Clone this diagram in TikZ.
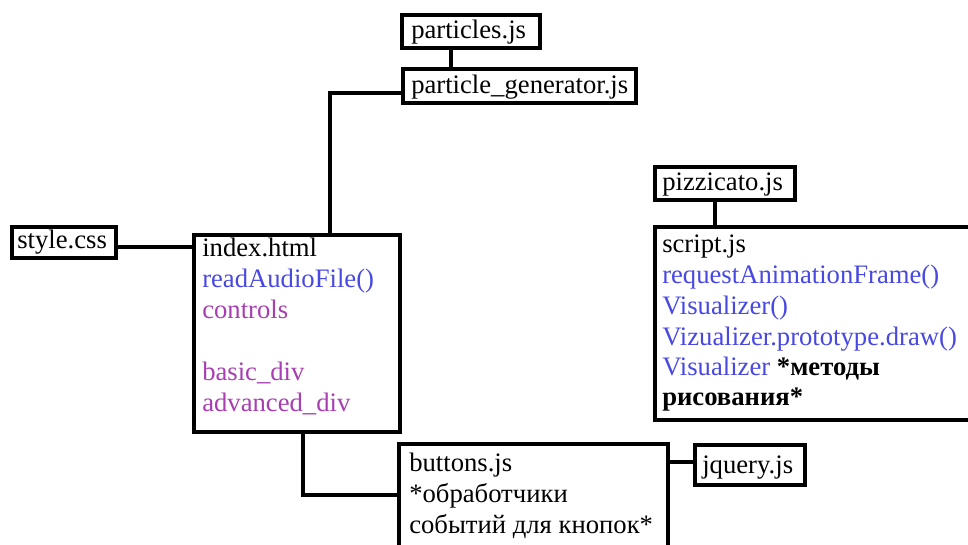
\documentclass[tikz,border=0pt]{standalone}
\usepackage{fontspec}
\setmainfont{Liberation Serif}
\usetikzlibrary{fit,calc}
\definecolor{fnblue}{RGB}{72,72,226}
\definecolor{fnpurple}{RGB}{168,62,178}
\tikzset{
  box/.style={draw=black, line width=3pt, inner sep=0pt, fill=white},
  conn/.style={draw=black, line width=3pt},
  txt/.style={anchor=base west, inner sep=0pt, font=\fontsize{20}{24}\selectfont},
}
\begin{document}
\begin{tikzpicture}[x=0.75pt, y=-0.75pt]
\useasboundingbox (0,0) rectangle (968,544);
\fill[white] (0,0) rectangle (968,544);
\clip (0,0) rectangle (968,544);

% boxes
\node[box, fit={(402,15) (540,48)}] (part) {};
\node[box, fit={(403,69) (636,103)}] (pg) {};
\node[box, fit={(12,227) (116,258)}] (style) {};
\node[box, fit={(194,235) (400,432)}] (idx) {};
\node[box, fit={(399,444) (668,570)}] (btn) {};
\node[box, fit={(695,445) (805,485)}] (jq) {};
\node[box, fit={(655,167) (795,200)}] (pizz) {};
\node[box, fit={(655,227) (1000,420)}] (scr) {};

% connectors
\draw[conn] (part.south -| 451,0) -- (pg.north -| 451,0);
\draw[conn] (pg.west |- 0,93) -| (idx.north -| 330,0);
\draw[conn] (style.east |- 0,247) -- (idx.west |- 0,247);
\draw[conn] (idx.south -| 303,0) |- (btn.west |- 0,495);
\draw[conn] (btn.east |- 0,462) -- (jq.west |- 0,462);
\draw[conn] (pizz.south -| 715,0) -- (scr.north -| 715,0);

% texts
\node[txt] (tpart) at (411,38) {particles.js};
\node[txt] (tpg) at (411,93) {particle\_generator.js};
\node[txt] (tstyle) at (17,248) {style.css};
\node[txt] (tpizz) at (662,190) {pizzicato.js};
\node[txt] (tjq) at (702,473) {jquery.js};

\node[txt] (i1) at (202,256) {index.html};
\node[txt, text=fnblue] (i2) at (202,287) {readAudioFile()};
\node[txt, text=fnpurple] (i3) at (202,318) {controls};
\node[txt, text=fnpurple] (i4) at (202,380) {basic\_div};
\node[txt, text=fnpurple] (i5) at (202,411) {advanced\_div};

\node[txt] (s1) at (662,252) {script.js};
\node[txt, text=fnblue] (s2) at (662,283) {requestAnimationFrame()};
\node[txt, text=fnblue] (s3) at (662,314) {Visualizer()};
\node[txt, text=fnblue] (s4) at (662,345) {Vizualizer.prototype.draw()};
\node[txt] (s5) at (662,375) {\textcolor{fnblue}{Visualizer} {\bfseries *методы}};
\node[txt] (s6) at (662,405) {\bfseries рисования*};

\node[txt] (b1) at (409,471) {buttons.js};
\node[txt] (b2) at (409,502) {*обработчики};
\node[txt] (b3) at (409,533) {событий для кнопок*};
\end{tikzpicture}
\end{document}
